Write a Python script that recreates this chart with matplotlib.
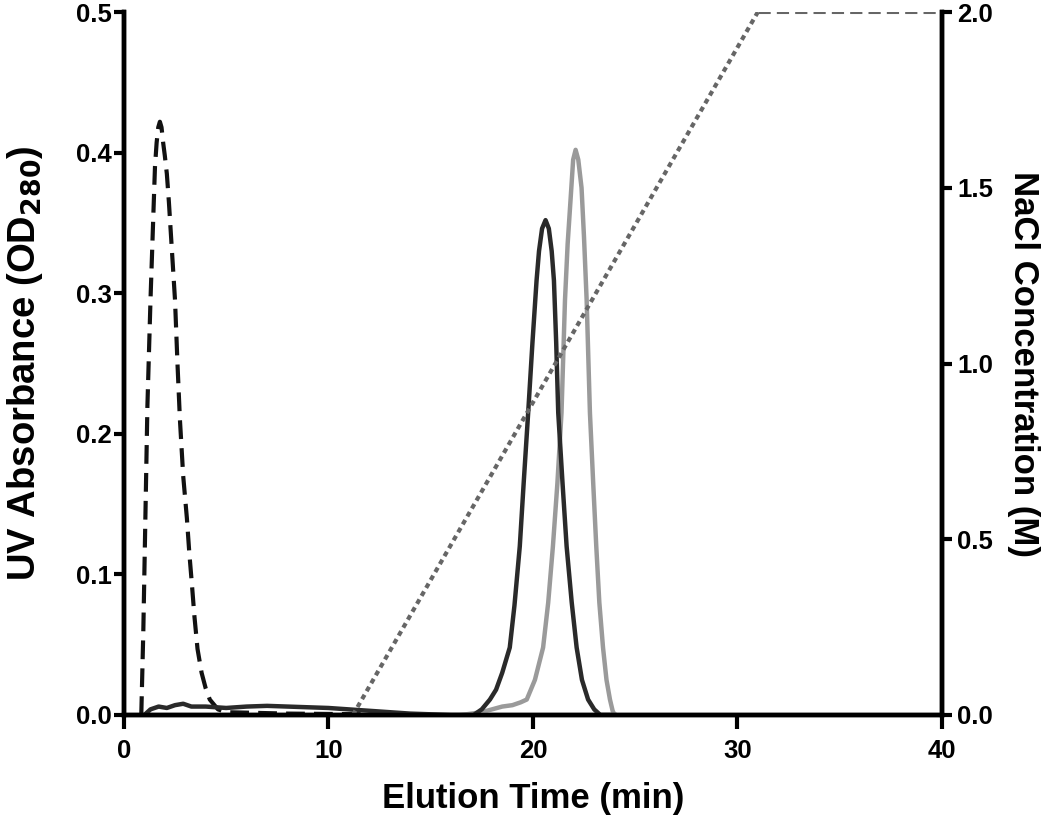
import numpy as np
import matplotlib.pyplot as plt

plt.rcParams['font.family'] = ['Liberation Sans', 'DejaVu Sans']
plt.rcParams['font.weight'] = 'bold'

# flow-through peak (dashed black)
flow_t = [0.85, 0.95, 1.05, 1.15, 1.3, 1.45, 1.52, 1.6, 1.68, 1.76, 1.84, 1.92, 2.0,
          2.1, 2.2, 2.35, 2.5, 2.62, 2.74, 2.9, 3.08, 3.2, 3.32, 3.45, 3.6, 3.8, 4.0,
          4.2, 4.6, 5.0, 8.0, 12.0, 15.0]
flow_y = [0.0, 0.06, 0.14, 0.22, 0.295, 0.36, 0.39, 0.407, 0.418, 0.422, 0.418, 0.407,
          0.398, 0.385, 0.365, 0.33, 0.295, 0.25, 0.21, 0.17, 0.14, 0.115, 0.094,
          0.07, 0.047, 0.03, 0.019, 0.011, 0.004, 0.002, 0.001, 0.0005, 0.0]

# first eluted peak (dark solid)
dark_t = [1.0, 1.3, 1.7, 2.1, 2.5, 2.9, 3.3, 4.0, 5.0, 6.0, 7.0, 8.0, 9.0, 10.0, 11.0,
          12.0, 13.0, 14.0, 15.0, 16.0, 17.1, 17.5, 17.9, 18.2, 18.5, 18.87, 19.1,
          19.36, 19.55, 19.77, 19.98, 20.18, 20.3, 20.45, 20.62, 20.78, 20.92, 21.03,
          21.14, 21.24, 21.45, 21.65, 21.9, 22.14, 22.4, 22.7, 23.0, 23.3, 24.0]
dark_y = [0.0, 0.004, 0.006, 0.005, 0.007, 0.008, 0.006, 0.006, 0.005, 0.006, 0.0065,
          0.006, 0.0055, 0.005, 0.004, 0.003, 0.002, 0.001, 0.0005, 0.0, 0.0, 0.004,
          0.011, 0.018, 0.03, 0.048, 0.078, 0.12, 0.165, 0.215, 0.265, 0.309, 0.33,
          0.346, 0.352, 0.346, 0.33, 0.309, 0.265, 0.215, 0.165, 0.12, 0.08, 0.048,
          0.025, 0.011, 0.004, 0.0, 0.0]

# second eluted peak (light gray)
light_t = [16.5, 17.5, 18.0, 18.5, 19.0, 19.4, 19.7, 20.1, 20.5, 20.75, 20.98, 21.2,
           21.4, 21.57, 21.7, 21.84, 21.97, 22.09, 22.22, 22.38, 22.5, 22.63, 22.79,
           22.95, 23.1, 23.25, 23.43, 23.6, 23.77, 23.9, 24.0]
light_y = [0.0, 0.002, 0.004, 0.006, 0.007, 0.009, 0.011, 0.025, 0.048, 0.08, 0.12,
           0.165, 0.215, 0.295, 0.335, 0.366, 0.395, 0.402, 0.395, 0.375, 0.34, 0.295,
           0.215, 0.165, 0.12, 0.08, 0.048, 0.025, 0.011, 0.003, 0.0]

# NaCl gradient
grad_t = [0, 11.2, 31.0, 40.0]
grad_c = [0.0, 0.0, 2.0, 2.0]

fig = plt.figure(figsize=(10.5, 8.15), dpi=100)
ax = fig.add_axes([0.118, 0.1227, 0.779, 0.8625])
ax2 = ax.twinx()

ax.plot(flow_t, flow_y, color='#111111', lw=3, ls=(0, (4.5, 2.2)), zorder=3)
ax.plot(dark_t, dark_y, color='#2a2a2a', lw=3.2, zorder=4)
ax.plot(light_t, light_y, color='#9a9a9a', lw=3.2, zorder=3)

ax2.plot(grad_t[:2], grad_c[:2], color='#777777', lw=2, ls=(0, (4, 2)))
ax2.plot(grad_t[1:3], grad_c[1:3], color='#666666', lw=3, ls=(0, (1.2, 1)))
ax2.plot(grad_t[2:], grad_c[2:], color='#666666', lw=2.2, ls=(0, (4, 2)))

ax.set_xlim(0, 40)
ax.set_ylim(0, 0.5)
ax2.set_ylim(0, 2.0)
ax.set_xticks([0, 10, 20, 30, 40])
ax.set_yticks([0.0, 0.1, 0.2, 0.3, 0.4, 0.5])
ax.set_yticklabels(['0.0', '0.1', '0.2', '0.3', '0.4', '0.5'])
ax2.set_yticks([0.0, 0.5, 1.0, 1.5, 2.0])
ax2.set_yticklabels(['0.0', '0.5', '1.0', '1.5', '2.0'])

for a in (ax, ax2):
    a.spines['top'].set_visible(False)
    for s in a.spines.values():
        s.set_linewidth(3.2)
    a.tick_params(axis='y', width=3, length=7, labelsize=18.5, direction='out', pad=2)
ax.tick_params(axis='x', width=3, length=10, labelsize=18.5, direction='out', pad=7)
ax2.tick_params(axis='y', pad=4)

ax.set_xlabel('Elution Time (min)', fontsize=25, fontweight='bold', labelpad=14)
ax.set_ylabel('UV Absorbance (OD$_{\\mathbf{280}}$)', fontsize=27.5, fontweight='bold', labelpad=22)
ax2.set_ylabel('NaCl Concentration (M)', fontsize=25, fontweight='bold', rotation=270, labelpad=34)

fig.savefig('out.png', dpi=100)
